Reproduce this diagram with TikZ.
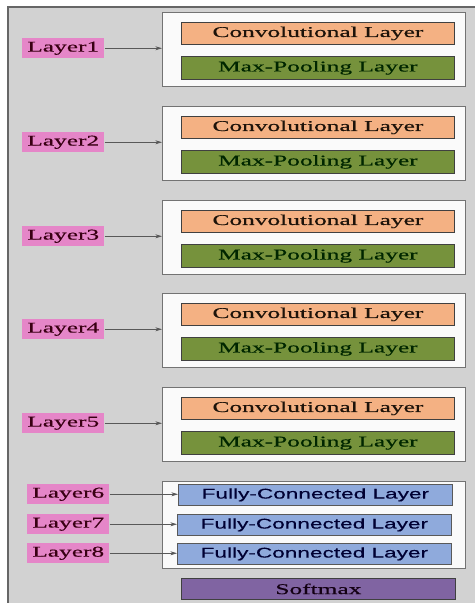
\documentclass[tikz,border=0pt]{standalone}
\usepackage{fontspec}
\setmainfont{Liberation Serif}[FakeStretch=1.7,FakeBold=0.4]
\newfontfamily\fcfont{Liberation Sans}[FakeStretch=1.6,FakeBold=0.3]
\usetikzlibrary{arrows.meta}
\definecolor{bggray}{HTML}{D2D2D2}
\definecolor{convc}{HTML}{F4B183}
\definecolor{poolc}{HTML}{76923C}
\definecolor{fcc}{HTML}{8FAADC}
\definecolor{smc}{HTML}{8064A2}
\definecolor{lblc}{HTML}{E586C8}
\definecolor{grpc}{HTML}{FAFAFA}
\tikzset{
  txt/.style={font=\fontsize{11.2}{12}\selectfont},
  base/.style={rectangle, inner sep=0pt, anchor=north west, txt},
  grp/.style={base, fill=grpc, draw=gray!90!black, line width=0.6pt, minimum width=227.25pt, minimum height=55.5pt},
  conv/.style={base, fill=convc, draw=black!75, line width=0.6pt, minimum width=204.75pt, minimum height=16.5pt, text=black!85!brown},
  pool/.style={base, fill=poolc, draw=black!75, line width=0.6pt, minimum width=204.75pt, minimum height=17.25pt, text=black!85!green},
  fc/.style={base, fill=fcc, draw=black!65, line width=0.6pt, minimum width=205.5pt, minimum height=15.75pt, text=black!80!blue, font=\fcfont\fontsize{10.6}{12}\selectfont},
  sm/.style={base, fill=smc, draw=black!75, line width=0.6pt, minimum width=205.5pt, minimum height=15.75pt, text=black!85!violet},
  lbl/.style={base, fill=lblc, minimum width=61.5pt, minimum height=15pt, text=black!70!purple},
  arr/.style={-{Stealth[length=5pt,width=3pt]}, draw=black!65, line width=0.5pt}
}
\begin{document}
\begin{tikzpicture}[x=0.75pt,y=-0.75pt]
\useasboundingbox (0,0) rectangle (475,603);
\fill[white] (0,0) rectangle (475,603);
\fill[bggray] (8,7) rectangle (475,603);
\draw[gray!80!black, line width=0.8pt] (8,603) -- (8,7) -- (475,7);
% groups 1-5
\foreach \i/\t in {1/12, 2/106, 3/200, 4/293, 5/387} {
  \node[grp] (G\i) at (162,\t) {};
  \node[conv] (C\i) at (181,\t+10) {Convolutional Layer};
  \node[pool] (P\i) at (181,\t+44) {Max-Pooling Layer};
  \node[lbl] (L\i) at (22,\t+26) {Layer\i};
  \draw[arr] (L\i.east) -- (L\i.east -| G\i.west);
}
% group 6
\node[grp, minimum height=65.25pt] (G6) at (162,481) {};
\node[fc] (F6) at (178,484) {Fully-Connected Layer};
\node[fc] (F7) at (177,514) {Fully-Connected Layer};
\node[fc] (F8) at (177,543) {Fully-Connected Layer};
\node[lbl] (L6) at (27,484) {Layer6};
\node[lbl] (L7) at (27,514) {Layer7};
\node[lbl] (L8) at (27,543) {Layer8};
\draw[arr] (L6.east) -- (L6.east -| F6.west);
\draw[arr] (L7.east) -- (L7.east -| F7.west);
\draw[arr] (L8.east) -- (L8.east -| F8.west);
\node[sm] (S) at (181,578) {Softmax};
\end{tikzpicture}
\end{document}
